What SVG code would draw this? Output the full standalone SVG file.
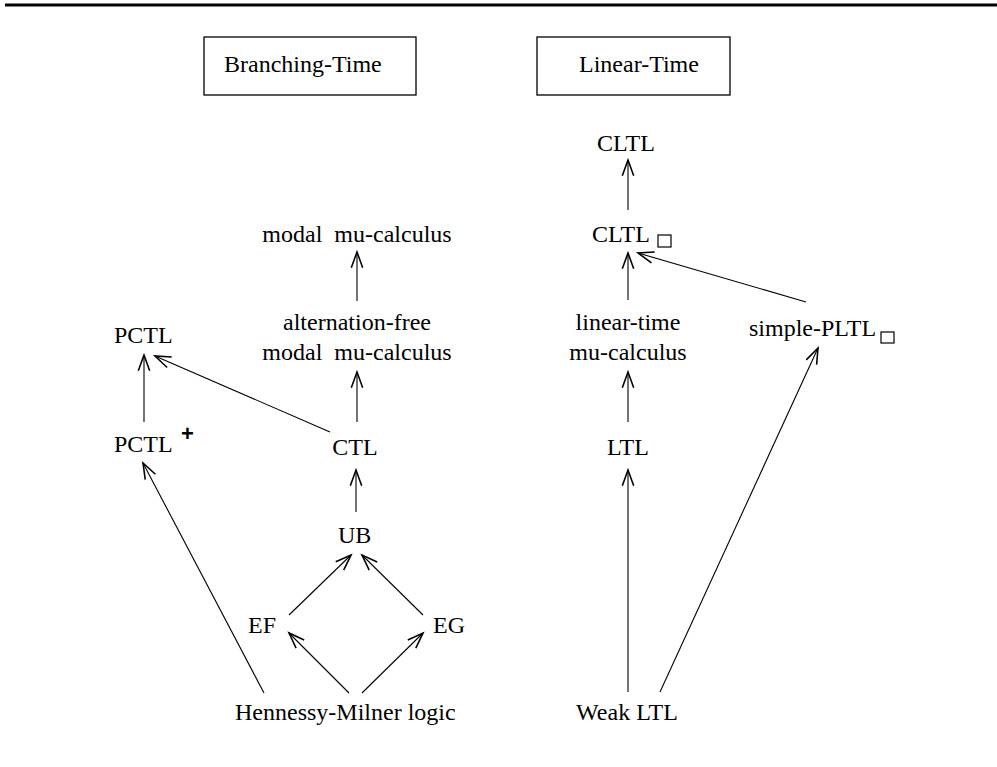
<svg xmlns="http://www.w3.org/2000/svg" width="997" height="767" viewBox="0 0 997 767">
<style>
text{font-family:"Liberation Serif","Times New Roman",serif;font-size:24px;fill:#000}
.c{text-anchor:middle}
.box{fill:none;stroke:#000;stroke-width:1.3}
.sq{fill:none;stroke:#000;stroke-width:1.2}
#edges line{stroke:#000;stroke-width:1.1;marker-end:url(#ah)}
.plus{font-family:"Liberation Sans",Arial,sans-serif;font-weight:bold;font-size:22px}
</style>
<defs>
<marker id="ah" markerUnits="userSpaceOnUse" markerWidth="20" markerHeight="20" viewBox="-12 -6 14 12" refX="0" refY="0" orient="auto">
<path d="M-11,-4 L0,0 L-11,4" fill="none" stroke="#000" stroke-width="1.1"/>
</marker>
</defs>
<rect width="997" height="767" fill="#fff"/>
<line x1="5" y1="5" x2="997" y2="5" stroke="#000" stroke-width="3"/>
<g id="branching-time"><rect class="box" x="204" y="37" width="212" height="58"/><text x="224" y="72">Branching-Time</text></g>
<g id="linear-time-box"><rect class="box" x="537" y="37" width="193" height="58"/><text x="579" y="72">Linear-Time</text></g>
<g id="cltl"><text x="597" y="151">CLTL</text></g>
<g id="cltl-box"><text x="592" y="242">CLTL</text><rect class="sq" x="658" y="235" width="13" height="12"/></g>
<g id="modal-mu"><text class="c" x="357" y="242" xml:space="preserve">modal  mu-calculus</text></g>
<g id="alt-free"><text class="c" x="357" y="330">alternation-free</text><text class="c" x="357" y="360" xml:space="preserve">modal  mu-calculus</text></g>
<g id="lin-mu"><text class="c" x="628" y="330">linear-time</text><text class="c" x="628" y="360">mu-calculus</text></g>
<g id="simple-pltl"><text x="749" y="336">simple-PLTL</text><rect class="sq" x="881" y="332" width="13" height="11"/></g>
<g id="pctl"><text x="114" y="343">PCTL</text></g>
<g id="pctl-plus"><text x="114" y="452">PCTL</text><text class="plus" x="181" y="441">+</text></g>
<g id="ctl"><text class="c" x="355" y="455">CTL</text></g>
<g id="ltl"><text class="c" x="628" y="455">LTL</text></g>
<g id="ub"><text x="338" y="543">UB</text></g>
<g id="ef"><text class="c" x="262" y="633">EF</text></g>
<g id="eg"><text x="433" y="633">EG</text></g>
<g id="hml"><text x="235" y="720">Hennessy-Milner logic</text></g>
<g id="weak-ltl"><text class="c" x="627" y="720">Weak LTL</text></g>
<g id="edges">
<line x1="628" y1="300" x2="628" y2="253"/>
<line x1="628" y1="210" x2="628" y2="160"/>
<line x1="806" y1="302" x2="638" y2="253"/>
<line x1="628" y1="422" x2="628" y2="372"/>
<line x1="628" y1="692" x2="628" y2="470"/>
<line x1="660" y1="692" x2="818" y2="348"/>
<line x1="357" y1="301" x2="357" y2="252"/>
<line x1="357" y1="422" x2="357" y2="372"/>
<line x1="330" y1="432" x2="155" y2="356"/>
<line x1="144" y1="422" x2="144" y2="355"/>
<line x1="264" y1="693" x2="143" y2="463"/>
<line x1="356" y1="512" x2="356" y2="470"/>
<line x1="289" y1="615" x2="351" y2="555"/>
<line x1="423" y1="615" x2="362" y2="555"/>
<line x1="349" y1="693" x2="289" y2="633"/>
<line x1="362" y1="693" x2="423" y2="633"/>
</g>
</svg>
